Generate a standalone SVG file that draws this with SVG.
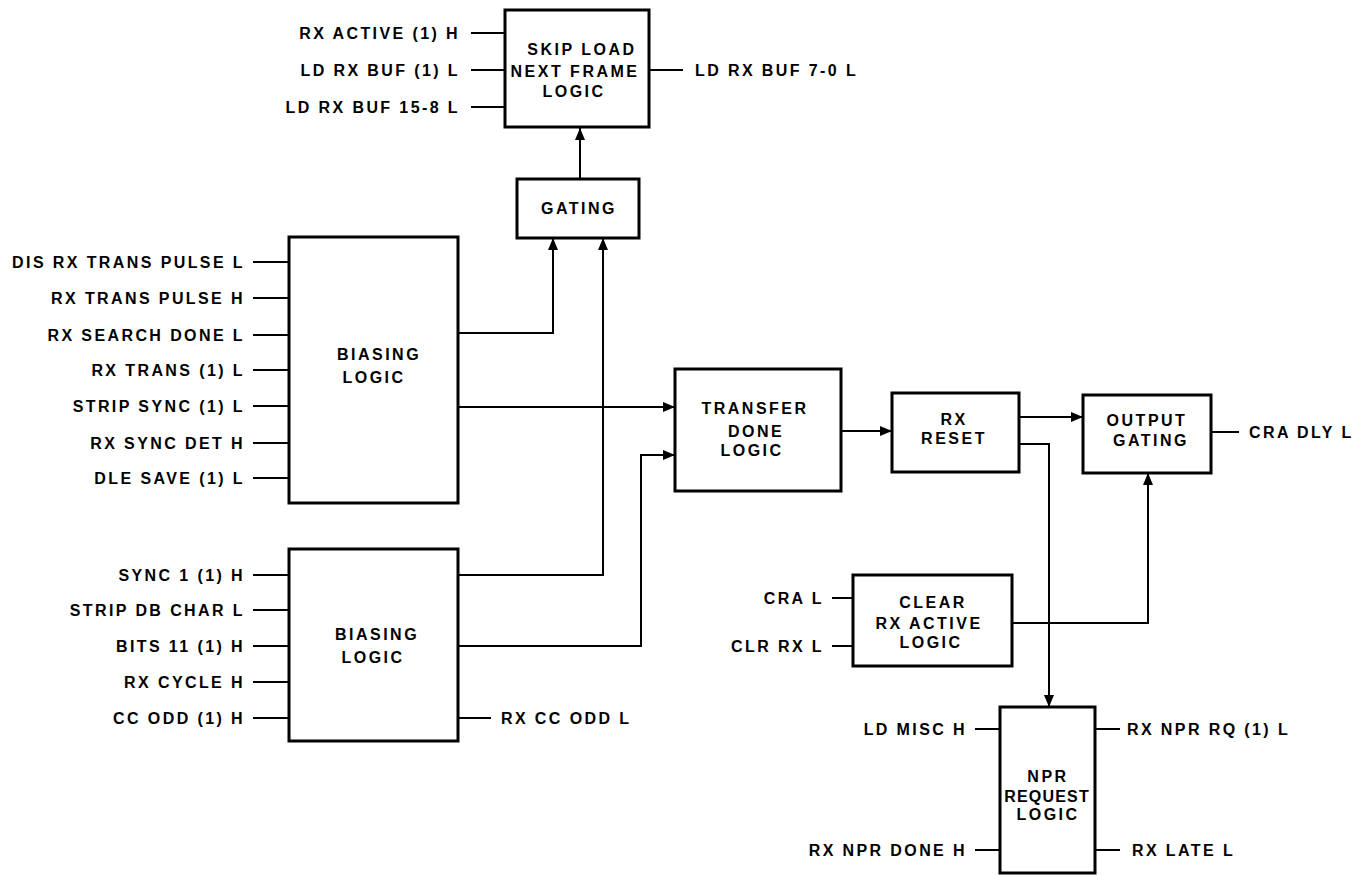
<svg xmlns="http://www.w3.org/2000/svg" width="1364" height="875" viewBox="0 0 1364 875">
<style>
  .box { fill: #ffffff; stroke: #000; stroke-width: 3; }
  .wire { fill: none; stroke: #000; stroke-width: 2; }
  .arr { fill: none; stroke: #000; stroke-width: 2; marker-end: url(#ah); }
  text { font-family: "Liberation Sans", Arial, sans-serif; font-weight: bold; fill: #000; }
  .lbl { font-size: 16px; letter-spacing: 2.4px; }
  .r { text-anchor: end; }
  .t { font-size: 16px; letter-spacing: 2.5px; text-anchor: middle; }
</style>
<defs>
  <marker id="ah" markerUnits="userSpaceOnUse" markerWidth="12" markerHeight="10" refX="12" refY="5" orient="auto">
    <path d="M0,0 L12,5 L0,10 z" fill="#000"/>
  </marker>
</defs>
<rect width="1364" height="875" fill="#fff"/>

<g id="connectors">
  <path class="arr" d="M580,179 V128"/>
  <path class="arr" d="M458,333 H553 V238"/>
  <path class="arr" d="M458,575 H603 V238"/>
  <path class="arr" d="M458,407 H675"/>
  <path class="arr" d="M458,646 H641 V455 H675"/>
  <path class="arr" d="M841,431 H892"/>
  <path class="arr" d="M1019,417 H1083"/>
  <path class="arr" d="M1019,444 H1049 V707"/>
  <path class="arr" d="M1012,623 H1148 V473"/>
  <!-- signal stubs -->
  <path class="wire" d="M471,33 H505 M471,70 H505 M471,107 H505 M649,70 H683"/>
  <path class="wire" d="M253,262 H289 M253,298 H289 M253,335 H289 M253,370 H289 M253,406 H289 M253,443 H289 M253,478 H289"/>
  <path class="wire" d="M253,575 H289 M253,610 H289 M253,646 H289 M253,682 H289 M253,718 H289 M458,718 H491"/>
  <path class="wire" d="M1211,432 H1239"/>
  <path class="wire" d="M832,598 H853 M832,646 H853"/>
  <path class="wire" d="M975,729 H1000 M975,850 H1000 M1095,729 H1120 M1095,850 H1120"/>
</g>

<g id="skip-load">
  <rect class="box" x="505" y="10" width="144" height="117"/>
  <text class="t" x="582" y="55">SKIP LOAD</text>
  <text class="t" x="575" y="77">NEXT FRAME</text>
  <text class="t" x="574" y="97">LOGIC</text>
</g>
<g id="gating">
  <rect class="box" x="517" y="179" width="122" height="59"/>
  <text class="t" x="579" y="214">GATING</text>
</g>
<g id="biasing-1">
  <rect class="box" x="289" y="237" width="169" height="266"/>
  <text class="t" x="379" y="360">BIASING</text>
  <text class="t" x="374" y="383">LOGIC</text>
</g>
<g id="biasing-2">
  <rect class="box" x="289" y="549" width="169" height="192"/>
  <text class="t" x="377" y="640">BIASING</text>
  <text class="t" x="373" y="663">LOGIC</text>
</g>
<g id="transfer-done">
  <rect class="box" x="675" y="369" width="166" height="122"/>
  <text class="t" x="755" y="414">TRANSFER</text>
  <text class="t" x="756" y="437">DONE</text>
  <text class="t" x="752" y="456">LOGIC</text>
</g>
<g id="rx-reset">
  <rect class="box" x="892" y="393" width="127" height="79"/>
  <text class="t" x="954" y="425">RX</text>
  <text class="t" x="954" y="444">RESET</text>
</g>
<g id="output-gating">
  <rect class="box" x="1083" y="395" width="128" height="78"/>
  <text class="t" x="1147" y="426">OUTPUT</text>
  <text class="t" x="1151" y="446">GATING</text>
</g>
<g id="clear-rx-active">
  <rect class="box" x="853" y="575" width="159" height="91"/>
  <text class="t" x="933" y="608">CLEAR</text>
  <text class="t" x="929" y="629">RX ACTIVE</text>
  <text class="t" x="931" y="648">LOGIC</text>
</g>
<g id="npr-request">
  <rect class="box" x="1000" y="707" width="95" height="166"/>
  <text class="t" x="1048" y="782">NPR</text>
  <text class="t" x="1047" y="802" style="letter-spacing:1.2px">REQUEST</text>
  <text class="t" x="1048" y="820">LOGIC</text>
</g>

<g id="signals">
  <text class="lbl r" x="460" y="39">RX ACTIVE (1) H</text>
  <text class="lbl r" x="460" y="76">LD RX BUF (1) L</text>
  <text class="lbl r" x="460" y="113">LD RX BUF 15-8 L</text>
  <text class="lbl" x="695" y="76">LD RX BUF 7-0 L</text>

  <text class="lbl r" x="245" y="268">DIS RX TRANS PULSE L</text>
  <text class="lbl r" x="245" y="304">RX TRANS PULSE H</text>
  <text class="lbl r" x="245" y="341">RX SEARCH DONE L</text>
  <text class="lbl r" x="245" y="376">RX TRANS (1) L</text>
  <text class="lbl r" x="245" y="412">STRIP SYNC (1) L</text>
  <text class="lbl r" x="245" y="449">RX SYNC DET H</text>
  <text class="lbl r" x="245" y="484">DLE SAVE (1) L</text>

  <text class="lbl r" x="245" y="581">SYNC 1 (1) H</text>
  <text class="lbl r" x="245" y="616">STRIP DB CHAR L</text>
  <text class="lbl r" x="245" y="652">BITS 11 (1) H</text>
  <text class="lbl r" x="245" y="688">RX CYCLE H</text>
  <text class="lbl r" x="245" y="724">CC ODD (1) H</text>
  <text class="lbl" x="501" y="724">RX CC ODD L</text>

  <text class="lbl" x="1249" y="438">CRA DLY L</text>
  <text class="lbl r" x="824" y="604">CRA L</text>
  <text class="lbl r" x="824" y="652">CLR RX L</text>

  <text class="lbl r" x="967" y="735">LD MISC H</text>
  <text class="lbl r" x="967" y="856">RX NPR DONE H</text>
  <text class="lbl" x="1127" y="735">RX NPR RQ (1) L</text>
  <text class="lbl" x="1132" y="856">RX LATE L</text>
</g>
</svg>
